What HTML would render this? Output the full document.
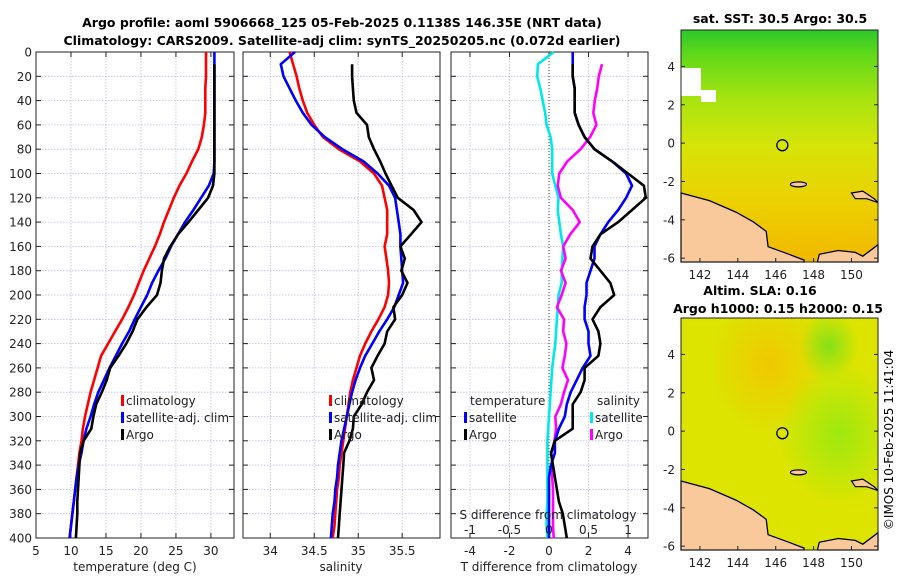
<!DOCTYPE html>
<html><head><meta charset="utf-8"><style>
body{margin:0;background:#fff;}
svg{display:block;font-family:"DejaVu Sans","Liberation Sans",sans-serif;}
</style></head><body>
<svg id="c" width="900" height="580" viewBox="0 0 900 580">
<text x="342" y="27" text-anchor="middle" font-weight="bold" font-size="12.5">Argo profile: aoml 5906668_125 05-Feb-2025 0.1138S 146.35E (NRT data)</text>
<text x="342" y="45" text-anchor="middle" font-weight="bold" font-size="12.5">Climatology: CARS2009. Satellite-adj clim: synTS_20250205.nc (0.072d earlier)</text>
<text x="780" y="23" text-anchor="middle" font-weight="bold" font-size="12.5">sat. SST: 30.5 Argo: 30.5</text>
<text x="760" y="295" text-anchor="middle" font-weight="bold" font-size="12.5">Altim. SLA: 0.16</text>
<text x="778" y="313" text-anchor="middle" font-weight="bold" font-size="12.5">Argo h1000: 0.15 h2000: 0.15</text>
<text transform="translate(893,440) rotate(-90)" text-anchor="middle" font-size="12">©IMOS 10-Feb-2025 11:41:04</text>
<defs>
<linearGradient id="sstg" x1="0" y1="0" x2="0" y2="1">
<stop offset="0" stop-color="#2cc82a"/><stop offset="0.1" stop-color="#5ed81a"/><stop offset="0.3" stop-color="#a8e410"/><stop offset="0.5" stop-color="#d6e408"/><stop offset="0.75" stop-color="#ecd000"/><stop offset="1" stop-color="#f2b800"/>
</linearGradient>
<radialGradient id="slaA" cx="0.45" cy="0.2" r="0.3"><stop offset="0" stop-color="#f0c800"/><stop offset="1" stop-color="#f0c800" stop-opacity="0"/></radialGradient>
<radialGradient id="slaB" cx="0.8" cy="0.5" r="0.3"><stop offset="0" stop-color="#9ee810"/><stop offset="1" stop-color="#9ee810" stop-opacity="0"/></radialGradient>
<radialGradient id="slaC" cx="0.75" cy="0.12" r="0.15"><stop offset="0" stop-color="#86e018"/><stop offset="1" stop-color="#86e018" stop-opacity="0"/></radialGradient>
</defs>
<g id="g"></g>
</svg>
<script>
// ---- data (depth in dbar) ----
const depths=[0,10,20,30,40,50,60,70,80,90,100,110,120,130,140,150,160,170,180,190,200,210,220,230,240,250,260,270,280,290,300,310,320,330,340,350,360,370,380,390,400];
const tempClim=[29.3,29.3,29.3,29.2,29.2,29.2,29.0,28.7,28.2,27.3,26.5,25.5,24.7,24.0,23.3,22.7,22.0,21.2,20.4,19.7,19.0,18.2,17.3,16.3,15.3,14.3,13.8,13.3,12.8,12.4,12.0,11.7,11.5,11.2,11.0,10.8,10.6,10.4,10.2,10.0,9.8];
const tempSat=[30.5,30.5,30.5,30.5,30.5,30.5,30.5,30.5,30.5,30.5,30.4,29.7,28.6,27.5,26.3,25.3,24.3,23.5,22.5,21.6,20.9,20.0,19.1,18.3,17.3,16.4,15.5,14.7,13.9,13.3,12.8,12.2,11.8,11.5,11.1,10.8,10.6,10.4,10.2,10.0,9.8];
const tempArgo=[30.5,30.5,30.5,30.5,30.5,30.5,30.5,30.5,30.5,30.5,30.5,30.3,29.6,28.2,26.8,25.3,24.2,23.3,23.0,22.8,22.3,20.8,19.5,18.8,17.9,16.8,15.6,15.1,14.4,13.6,13.2,12.9,11.8,11.3,11.2,11.1,11.0,10.9,10.9,10.8,10.7];
const salClim=[34.22,34.26,34.30,34.33,34.37,34.42,34.50,34.60,34.78,35.02,35.18,35.27,35.30,35.33,35.33,35.33,35.30,35.32,35.34,35.35,35.34,35.30,35.23,35.15,35.08,35.02,34.98,34.94,34.91,34.89,34.87,34.85,34.83,34.81,34.79,34.78,34.76,34.75,34.74,34.73,34.71];
const salSat=[34.28,34.12,34.15,34.22,34.29,34.37,34.47,34.62,34.82,35.06,35.22,35.35,35.42,35.44,35.46,35.48,35.48,35.49,35.50,35.51,35.46,35.41,35.33,35.24,35.16,35.08,35.02,34.97,34.93,34.90,34.87,34.84,34.81,34.79,34.77,34.76,34.74,34.73,34.71,34.70,34.69];
const salArgo=[34.93,34.93,34.93,34.94,34.95,34.98,35.10,35.12,35.18,35.25,35.31,35.38,35.45,35.63,35.72,35.60,35.48,35.53,35.49,35.56,35.50,35.40,35.42,35.33,35.30,35.22,35.15,35.18,35.10,35.04,34.95,34.94,34.90,34.84,34.83,34.82,34.81,34.80,34.79,34.78,34.77];
const depthTicks=[0,20,40,60,80,100,120,140,160,180,200,220,240,260,280,300,320,340,360,380,400];
const tempTicks=[5,10,15,20,25,30];
const salTicks=[34,34.5,35,35.5];
const tdiffTicks=[-4,-2,0,2,4];
const sdiffTicks=[-1,-0.5,0,0.5,1];
const latTicks=[4,2,0,-2,-4,-6];
const lonTicks=[142,144,146,148,150];

const NS='http://www.w3.org/2000/svg';
const G=document.getElementById('g');
function mk(tag,attrs,parent){const e=document.createElementNS(NS,tag);for(const k in attrs)e.setAttribute(k,attrs[k]);(parent||G).appendChild(e);return e;}
const Y0=52,Y1=538;
const yD=d=>Y0+(d/400)*(Y1-Y0);
function panel(name,x0,x1,dmin,dmax,xt,showY){
  const sx=v=>x0+(v-dmin)/(dmax-dmin)*(x1-x0);
  const g=mk('g',{});
  
  
  depthTicks.forEach(d=>{
    const l=mk('line',{x1:x0,x2:x1,y1:yD(d),y2:yD(d),stroke:'#b8c0dc','stroke-width':0.8,'stroke-dasharray':'1.5,1.5'},g);
    
    
    mk('line',{x1:x0,x2:x0+5,y1:yD(d),y2:yD(d),stroke:'#222'},g);
    mk('line',{x1:x1-5,x2:x1,y1:yD(d),y2:yD(d),stroke:'#222'},g);
    if(showY){const t=mk('text',{x:x0-4,y:yD(d)+4.5,'text-anchor':'end','font-size':12,fill:'#222'},g);t.textContent=d;
      
      }
  });
  xt.forEach(v=>{
    const l=mk('line',{x1:sx(v),x2:sx(v),y1:Y0,y2:Y1,stroke:'#b8c0dc','stroke-width':0.8,'stroke-dasharray':'1.5,1.5'},g);
    
    
    mk('line',{x1:sx(v),x2:sx(v),y1:Y1-5,y2:Y1,stroke:'#222'},g);
    mk('line',{x1:sx(v),x2:sx(v),y1:Y0,y2:Y0+5,stroke:'#222'},g);
    const t=mk('text',{x:sx(v),y:Y1+17,'text-anchor':'middle','font-size':12,fill:'#222'},g);t.textContent=v;
    
    
  });
  mk('rect',{x:x0,y:Y0,width:x1-x0,height:Y1-Y0,fill:'none',stroke:'#222','stroke-width':1},g);
  return {g,sx};
}
function line(p,xs,color,name,start){
  let d='';
  for(let i=start||0;i<depths.length;i++){d+=(d?'L':'M')+p.sx(xs[i]).toFixed(1)+','+yD(depths[i]).toFixed(1);}
  const e=mk('path',{d:d,fill:'none',stroke:color,'stroke-width':2.6,'stroke-linejoin':'round'},p.g);
  
  
}
function label(x,y,txt,name,anchor){const t=mk('text',{x:x,y:y,'font-size':12,fill:'#222','text-anchor':anchor||'middle'});t.textContent=txt;
  
  return t;}
function legend(x,y,color,txt){
  const b=mk('rect',{x:x,y:y-10,width:3,height:11,fill:color});
  
  
  const t=mk('text',{x:x+5,y:y,'font-size':12,fill:'#222'});t.textContent=txt;
  
  
}
const p1=panel('temperature',36,234,5,33.3,tempTicks,true);
line(p1,tempClim,'#ff0000','temp-climatology-line');
line(p1,tempSat,'#0000ff','temp-satellite-line');
line(p1,tempArgo,'#000000','temp-argo-line',1);
label(135,571,'temperature (deg C)','temperature-axis-title');
legend(121,405,'#ff0000','climatology');legend(121,422,'#0000ff','satellite-adj. clim');legend(121,439,'#000','Argo');
const p2=panel('salinity',243,440,33.69,35.93,salTicks,false);
line(p2,salClim,'#ff0000','sal-climatology-line');
line(p2,salSat,'#0000ff','sal-satellite-line');
line(p2,salArgo,'#000000','sal-argo-line',1);
label(341,571,'salinity','salinity-axis-title');
legend(329,405,'#ff0000','climatology');legend(329,422,'#0000ff','satellite-adj. clim');legend(329,439,'#000','Argo');
const p3=panel('difference',451,648,-4.96,5.01,tdiffTicks,false);
const z=p3.sx(0);
const zl=mk('line',{x1:z,x2:z,y1:Y0,y2:Y1,stroke:'#444','stroke-width':1,'stroke-dasharray':'1,2'},p3.g);


const sS=depths.map((d,i)=>(salSat[i]-salClim[i])*4);
const sA=depths.map((d,i)=>(salArgo[i]-salClim[i])*4);
const tS=depths.map((d,i)=>tempSat[i]-tempClim[i]);
const tA=depths.map((d,i)=>tempArgo[i]-tempClim[i]);
line(p3,sS,'#00e8e8','sal-diff-satellite-line');
line(p3,sA,'#ff00ff','sal-diff-argo-line',1);
line(p3,tS,'#0000ff','temp-diff-satellite-line');
line(p3,tA,'#000000','temp-diff-argo-line',1);
sdiffTicks.forEach(v=>{label(p3.sx(v*4),534,v,'sdiff-tick-label');});
label(548,519,'S difference from climatology','sdiff-axis-title');
label(549,571,'T difference from climatology','tdiff-axis-title');
label(470,405,'temperature','legend-temperature-heading','start');
legend(464,422,'#0000ff','satellite');legend(464,439,'#000','Argo');
label(597,405,'salinity','legend-salinity-heading','start');
legend(590,422,'#00e8e8','satellite');legend(590,439,'#ff00ff','Argo');

function map(name,top,fillFn){
  const x0=681,x1=878,lonMin=141.0,lonMax=151.4,latMax=5.9,latMin=-6.2;
  const y1=top+232;
  const lx=v=>x0+(v-lonMin)/(lonMax-lonMin)*(x1-x0);
  const ly=v=>top+(latMax-v)/(latMax-latMin)*(y1-top);
  const g=mk('g',{});
  
  
  fillFn(g,x0,top,x1-x0,y1-top);
  const land=[[141.0,-2.6],[142.5,-3.0],[143.9,-3.6],[144.8,-4.1],[145.5,-4.6],[145.6,-5.4],[146.7,-5.8],[147.5,-6.1],[147.5,-6.2],[141.0,-6.2]];
  const land2=[[148.2,-6.2],[148.3,-5.8],[149.3,-5.6],[150.2,-5.7],[150.6,-5.9],[151.4,-5.3],[151.4,-6.2]];
  [land,land2].forEach(L=>{
    const pl=mk('polygon',{points:L.map(p=>lx(p[0]).toFixed(1)+','+ly(p[1]).toFixed(1)).join(' '),fill:'#f9c99c',stroke:'#000','stroke-width':1.3},g);
    
    
  });
  const nb=mk('polygon',{points:[[150.0,-2.6],[150.6,-2.5],[151.2,-2.9],[151.4,-3.1],[150.8,-2.9],[150.2,-2.9]].map(p=>lx(p[0]).toFixed(1)+','+ly(p[1]).toFixed(1)).join(' '),fill:'#f9c99c',stroke:'#000','stroke-width':1.2},g);
  
  
  const is=mk('ellipse',{cx:lx(147.2),cy:ly(-2.15),rx:8,ry:2.5,fill:'#f9c99c',stroke:'#000','stroke-width':1.2},g);
  
  
  const c=mk('circle',{cx:lx(146.35),cy:ly(-0.11),r:5.5,fill:'none',stroke:'#000','stroke-width':1.3},g);
  
  
  mk('rect',{x:x0,y:top,width:x1-x0,height:y1-top,fill:'none',stroke:'#222'},g);
  latTicks.forEach(v=>{mk('line',{x1:x0,x2:x0+4,y1:ly(v),y2:ly(v),stroke:'#222'},g);mk('line',{x1:x1-4,x2:x1,y1:ly(v),y2:ly(v),stroke:'#222'},g);
    const t=mk('text',{x:x0-6,y:ly(v)+4.5,'text-anchor':'end','font-size':12,fill:'#222'},g);t.textContent=v;
    
    });
  lonTicks.forEach(v=>{mk('line',{x1:lx(v),x2:lx(v),y1:y1-4,y2:y1,stroke:'#222'},g);
    const t=mk('text',{x:lx(v),y:y1+17,'text-anchor':'middle','font-size':12,fill:'#222'},g);t.textContent=v;
    
    });
}
map('sst-map',30,(g,x,y,w,h)=>{
  mk('rect',{x:x,y:y,width:w,height:h,fill:'url(#sstg)'},g);
  mk('rect',{x:x,y:y+38,width:20,height:28,fill:'#fff'},g);
  mk('rect',{x:x+20,y:y+60,width:15,height:12,fill:'#fff'},g);
});
map('sla-map',318,(g,x,y,w,h)=>{
  mk('rect',{x:x,y:y,width:w,height:h,fill:'#dce400'},g);
  mk('rect',{x:x,y:y,width:w,height:h,fill:'url(#slaA)'},g);
  mk('rect',{x:x,y:y,width:w,height:h,fill:'url(#slaB)'},g);
  mk('rect',{x:x,y:y,width:w,height:h,fill:'url(#slaC)'},g);
});
</script>
</body></html>
